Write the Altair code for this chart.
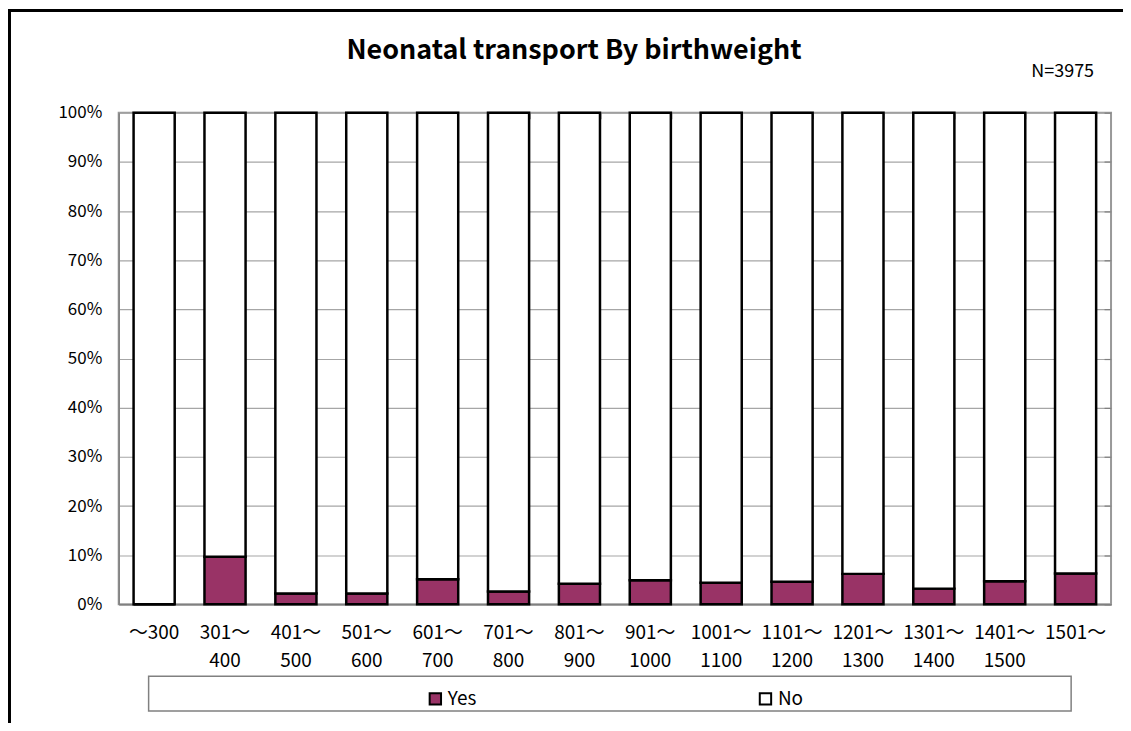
import altair as alt
import pandas as pd

FONT = "Noto Sans CJK JP"

title_text = "Neonatal transport By birthweight"
n_text = "N=3975"

categories = ["～300", "301～\n400", "401～\n500", "501～\n600", "601～\n700",
              "701～\n800", "801～\n900", "901～\n1000", "1001～\n1100",
              "1101～\n1200", "1201～\n1300", "1301～\n1400", "1401～\n1500",
              "1501～"]
yes_pct = [0.0, 9.7, 2.2, 2.2, 5.1, 2.6, 4.2, 4.9, 4.4, 4.6, 6.2, 3.2, 4.7, 6.3]
series = ["Yes", "No"]
series_colors = ["#993366", "#FFFFFF"]
y_ticks = [0, 10, 20, 30, 40, 50, 60, 70, 80, 90, 100]

rows = []
for c, v in zip(categories, yes_pct):
    rows.append({"cat": c, "series": "Yes", "pct": v, "ord": 0})
    rows.append({"cat": c, "series": "No", "pct": 100 - v, "ord": 1})
df = pd.DataFrame(rows)

W, H = 995, 493

xscale = alt.Scale(paddingInner=0.42, paddingOuter=0.21)
yscale = alt.Scale(domain=[0, 100], nice=False)

bars = alt.Chart(df).mark_bar(stroke="black", strokeWidth=2.5).encode(
    x=alt.X("cat:N", sort=categories, scale=xscale,
            axis=alt.Axis(title=None, labelAngle=0, labelExpr="split(datum.label, '\\n')",
                          labelLineHeight=28, labelPadding=19, ticks=False,
                          domainColor="#808080", domainWidth=1.5, labelFontSize=19,
                          labelFont=FONT, labelColor="black", labelBaseline="top")),
    y=alt.Y("pct:Q", stack="zero", scale=yscale,
            axis=alt.Axis(title=None, values=y_ticks, labelExpr="datum.value + '%'",
                          labelFontSize=17, labelFont=FONT, labelColor="black",
                          labelPadding=17, ticks=False, domainColor="#808080",
                          domainWidth=1.5, grid=True, gridColor="#A6A6A6", gridWidth=1.2)),
    color=alt.Color("series:N", scale=alt.Scale(domain=series, range=series_colors),
                    legend=alt.Legend(title=None, orient="none", legendX=308, legendY=578,
                                      direction="horizontal", columns=2, columnPadding=279,
                                      symbolType="square", symbolSize=130,
                                      symbolStrokeColor="black", symbolStrokeWidth=2,
                                      labelFontSize=19, labelFont=FONT, labelColor="black",
                                      labelOffset=3)),
    order=alt.Order("ord:Q", sort="ascending"),
)

ticks_layer = alt.Chart(df).mark_bar(opacity=0).encode(
    x=alt.X("cat:N", sort=categories, scale=xscale,
            axis=alt.Axis(title=None, labels=False, domain=False, ticks=True, tickSize=6,
                          offset=-6, tickBand="extent", tickColor="#808080", tickWidth=1.2,
                          grid=False)),
    y=alt.Y("pct:Q", stack="zero", scale=yscale,
            axis=alt.Axis(title=None, labels=False, domain=False, ticks=True, tickSize=7,
                          offset=-7, values=y_ticks, tickColor="#808080", tickWidth=1.2,
                          grid=False)),
)

one = pd.DataFrame({"t": [title_text]})
frame = alt.Chart(one).mark_rect(filled=False, stroke="black", strokeWidth=3).encode(
    x=alt.value(-109.5), x2=alt.value(1100), y=alt.value(-102.5), y2=alt.value(700))

legend_box = alt.Chart(one).mark_rect(fill="white", stroke="#808080", strokeWidth=1.5).encode(
    x=alt.value(30), x2=alt.value(955), y=alt.value(565), y2=alt.value(600))

title = alt.Chart(one).mark_text(font=FONT, fontSize=27, fontWeight="bold", color="black",
                                 align="center", baseline="alphabetic").encode(
    text="t:N", x=alt.value(456.5), y=alt.value(-54))

ntxt = alt.Chart(pd.DataFrame({"t": [n_text]})).mark_text(
    font=FONT, fontSize=18, color="black", align="right", baseline="alphabetic").encode(
    text="t:N", x=alt.value(978), y=alt.value(-36))

chart = alt.layer(frame, legend_box, bars, ticks_layer, title, ntxt).resolve_axis(
    x="independent", y="independent"
).properties(
    width=W, height=H,
    padding={"left": 111, "top": 104, "right": 12, "bottom": 118},
    autosize=alt.AutoSizeParams(type="none"),
).configure_view(stroke="#999999", strokeWidth=2)

chart.save("out.html", embed_options={"renderer": "svg", "actions": False})
